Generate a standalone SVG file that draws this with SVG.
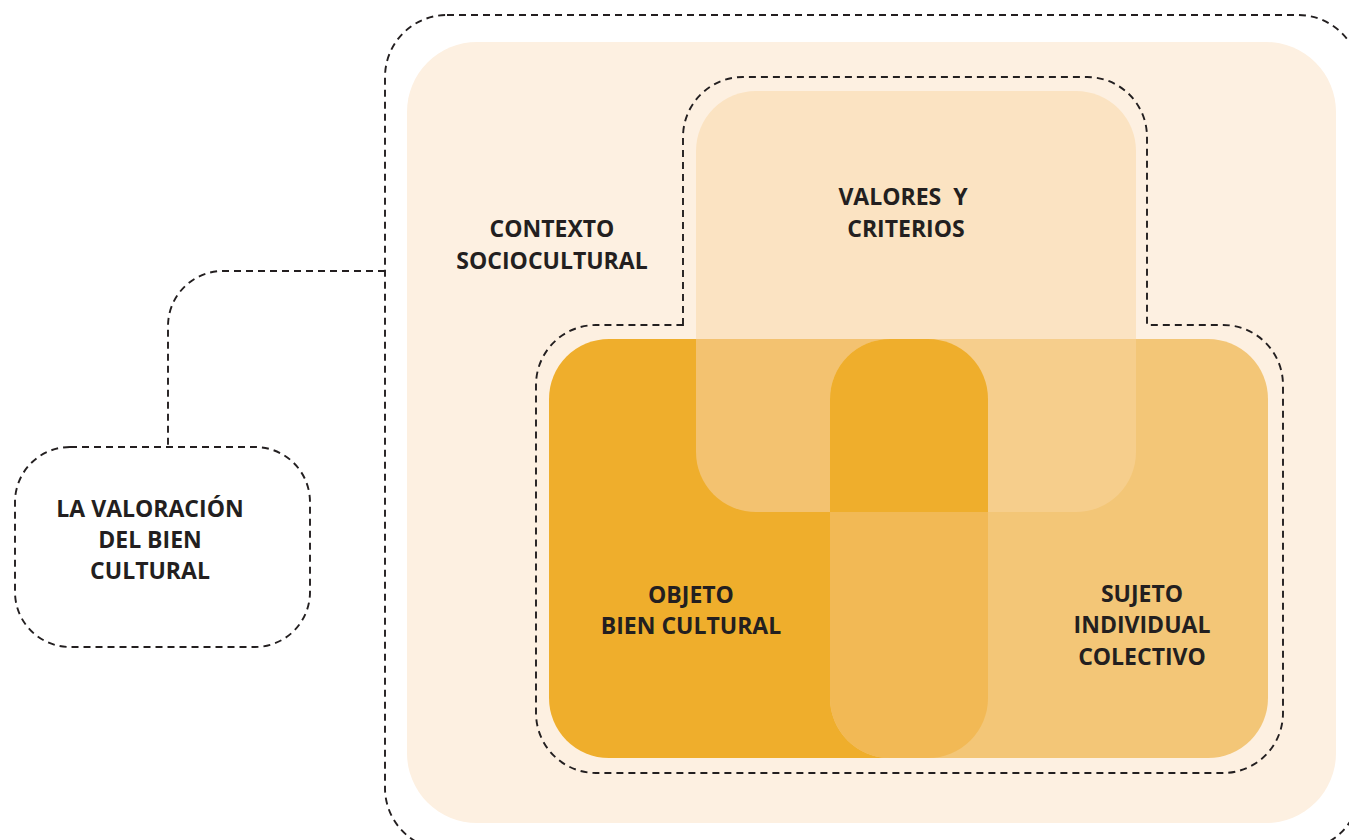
<svg xmlns="http://www.w3.org/2000/svg" width="1349" height="840" viewBox="0 0 1349 840">
<style>
.dash{fill:none;stroke:#231F20;stroke-width:1.9;stroke-dasharray:7 5}
.lbl{font-family:"Open Sans","Noto Sans",sans-serif;font-weight:700;font-size:23px;fill:#231F20;text-anchor:middle}
</style>
<defs>
<clipPath id="cO"><rect x="549" y="339" width="439" height="419" rx="60"/></clipPath>
<clipPath id="cS"><rect x="830" y="339" width="438" height="419" rx="60"/></clipPath>
</defs>
<rect width="1349" height="840" fill="#FFFFFF"/>
<g id="contexto">
<rect x="385" y="15" width="975" height="835" rx="62" class="dash"/>
<rect x="407" y="42" width="929" height="781" rx="70" fill="#FDF0E1"/>
<text class="lbl" x="552" y="237">CONTEXTO</text>
<text class="lbl" x="552" y="269">SOCIOCULTURAL</text>
</g>
<g id="grupo-interior">
<path class="dash" d="M683,325 V137 A60,60 0 0 1 743,77 H1087 A60,60 0 0 1 1147,137 V325 H1223 A60,60 0 0 1 1283,385 V713 A60,60 0 0 1 1223,773 H596 A60,60 0 0 1 536,713 V385 A60,60 0 0 1 596,325 Z"/>
</g>
<g id="valores">
<rect x="696" y="91" width="440" height="421" rx="60" fill="#FBE3C2"/>
</g>
<g id="objeto">
<rect x="549" y="339" width="439" height="419" rx="60" fill="#EFAE2C"/>
</g>
<g id="sujeto">
<rect x="830" y="339" width="438" height="419" rx="60" fill="#F3C677"/>
</g>
<g id="intersecciones">
<rect x="830" y="339" width="438" height="419" rx="60" fill="#F2B955" clip-path="url(#cO)"/>
<rect x="696" y="91" width="440" height="421" rx="60" fill="#F3C270" clip-path="url(#cO)"/>
<rect x="696" y="91" width="440" height="421" rx="60" fill="#F6CE8C" clip-path="url(#cS)"/>
<g clip-path="url(#cO)"><rect x="696" y="91" width="440" height="421" rx="60" fill="#EFAE2C" clip-path="url(#cS)"/></g>
</g>
<g id="textos">
<text class="lbl" x="903" y="205" xml:space="preserve">VALORES  Y</text>
<text class="lbl" x="906" y="237">CRITERIOS</text>
<text class="lbl" x="691" y="603">OBJETO</text>
<text class="lbl" x="691" y="634">BIEN CULTURAL</text>
<text class="lbl" x="1142" y="602">SUJETO</text>
<text class="lbl" x="1142" y="633">INDIVIDUAL</text>
<text class="lbl" x="1142" y="665">COLECTIVO</text>
</g>
<g id="valoracion">
<rect x="15" y="447" width="295" height="200" rx="55" class="dash"/>
<text class="lbl" x="150" y="517">LA VALORACIÓN</text>
<text class="lbl" x="150" y="548">DEL BIEN</text>
<text class="lbl" x="150" y="579">CULTURAL</text>
</g>
<g id="conectores">
<path class="dash" d="M385,271 H223 A55,55 0 0 0 168,326 V447"/>
</g>
</svg>
